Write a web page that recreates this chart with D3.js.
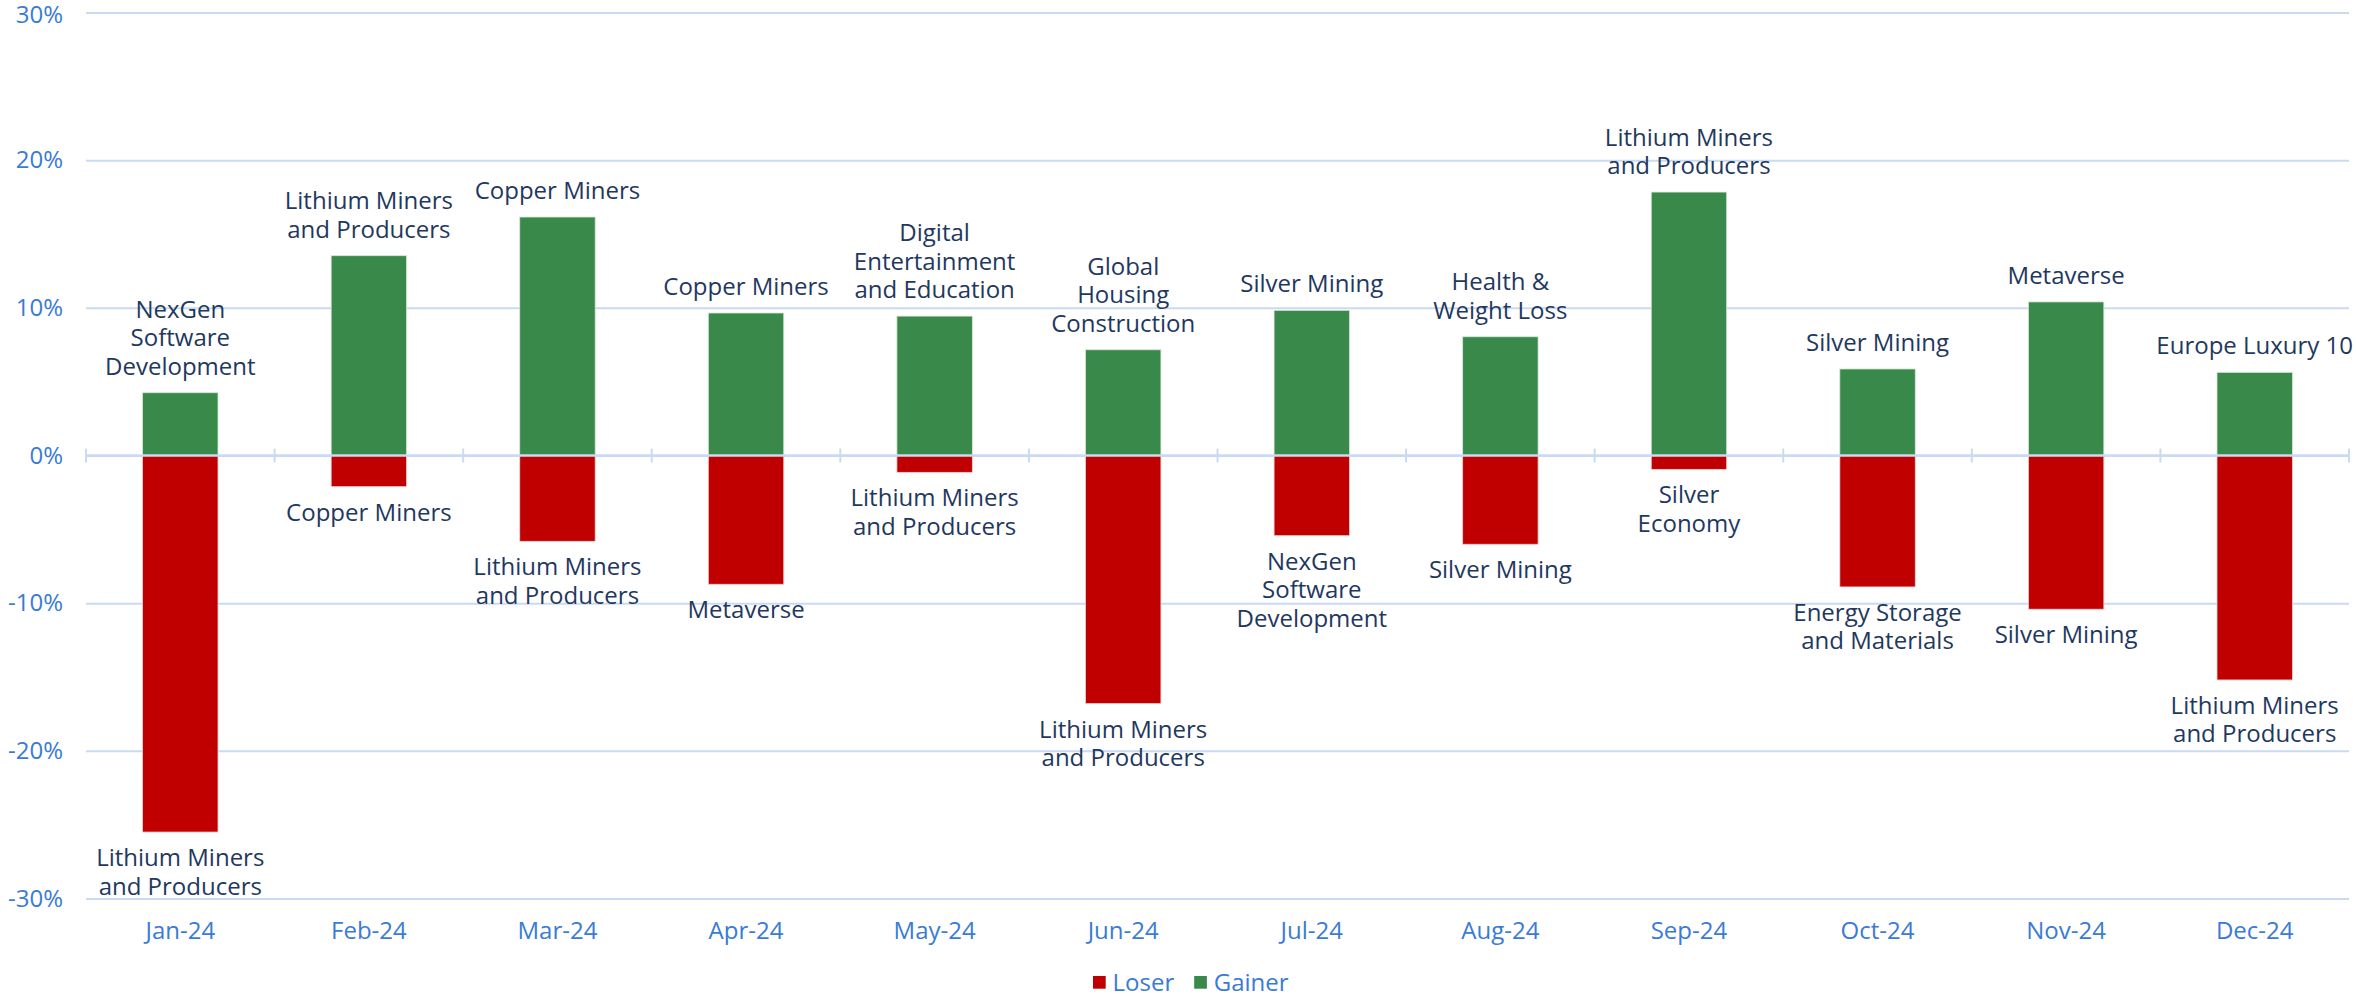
<!DOCTYPE html>
<html>
<head>
<meta charset="utf-8">
<script src="https://cdn.jsdelivr.net/npm/d3@7"></script>
<style>
  html, body { margin: 0; padding: 0; background: #ffffff; }
  svg { display: block; font-family: "Open Sans", "Noto Sans", sans-serif; }
</style>
</head>
<body>
<svg id="chart" width="2356" height="997"></svg>
<script>
// Monthly best and worst performing themes, 2024 (monthly return, %)
const months = ["Jan-24", "Feb-24", "Mar-24", "Apr-24", "May-24", "Jun-24",
                "Jul-24", "Aug-24", "Sep-24", "Oct-24", "Nov-24", "Dec-24"];

const gainerValues = [4.25, 13.53, 16.15, 9.65, 9.44, 7.16, 9.83, 8.04, 17.84, 5.86, 10.4, 5.63];
const loserValues  = [-25.5, -2.11, -5.81, -8.72, -1.14, -16.8, -5.43, -6.01, -0.94, -8.9, -10.41, -15.2];

const gainerNames = [
  "NexGen\nSoftware\nDevelopment",
  "Lithium Miners\nand Producers",
  "Copper Miners",
  "Copper Miners",
  "Digital\nEntertainment\nand Education",
  "Global\nHousing\nConstruction",
  "Silver Mining",
  "Health &\nWeight Loss",
  "Lithium Miners\nand Producers",
  "Silver Mining",
  "Metaverse",
  "Europe Luxury 10"
];
const loserNames = [
  "Lithium Miners\nand Producers",
  "Copper Miners",
  "Lithium Miners\nand Producers",
  "Metaverse",
  "Lithium Miners\nand Producers",
  "Lithium Miners\nand Producers",
  "NexGen\nSoftware\nDevelopment",
  "Silver Mining",
  "Silver\nEconomy",
  "Energy Storage\nand Materials",
  "Silver Mining",
  "Lithium Miners\nand Producers"
];

const yTicks = [-30, -20, -10, 0, 10, 20, 30];
const seriesNames = ["Loser", "Gainer"];

// ---- styling ----
const colors = { Loser: "#C00000", Gainer: "#38894A" };
const gridColor = "#C9DBF2";
const axisTextColor = "#3A7BD5";
const labelColor = "#1F3860";
const labelFont = 24;
const axisFont = 24;
const lineHeight = 28.5;

const svg = d3.select("#chart");
const plot = { left: 86, right: 2349, top: 12.5, bottom: 898.5 };

const x = d3.scaleBand()
  .domain(months)
  .range([plot.left, plot.right])
  .paddingInner(0.6)
  .paddingOuter(0.3);

const y = d3.scaleLinear()
  .domain([-30, 30])
  .range([plot.bottom, plot.top]);

// horizontal gridlines with percentage labels
const yAxis = d3.axisLeft(y)
  .tickValues(yTicks)
  .tickFormat(d => d + "%")
  .tickSizeInner(-(plot.right - plot.left))
  .tickSizeOuter(0)
  .tickPadding(23);

const gy = svg.append("g")
  .attr("transform", `translate(${plot.left},0)`)
  .call(yAxis);
gy.select(".domain").remove();
gy.selectAll(".tick line")
  .attr("stroke", gridColor)
  .attr("stroke-width", 2);
gy.selectAll(".tick text")
  .attr("fill", axisTextColor)
  .attr("font-size", axisFont)
  .attr("font-family", "Open Sans, sans-serif")
  .attr("dy", d => d === 30 ? "0.42em" : "0.32em");

// month labels along the bottom
const xAxis = d3.axisBottom(x)
  .tickSize(0)
  .tickPadding(23.5);
const gx = svg.append("g")
  .attr("transform", `translate(0,${plot.bottom})`)
  .call(xAxis);
gx.select(".domain").remove();
gx.selectAll(".tick text")
  .attr("fill", axisTextColor)
  .attr("font-size", axisFont)
  .attr("font-family", "Open Sans, sans-serif");

// bars
const rows = months.map((m, i) => ({
  month: m,
  gain: gainerValues[i], loss: loserValues[i],
  gainName: gainerNames[i], lossName: loserNames[i]
}));

const bars = svg.append("g");
bars.selectAll("rect.gain")
  .data(rows).join("rect")
  .attr("class", "gain")
  .attr("x", d => x(d.month))
  .attr("width", x.bandwidth())
  .attr("y", d => y(d.gain))
  .attr("height", d => y(0) - y(d.gain))
  .attr("fill", colors.Gainer)
  .attr("stroke", "#d8e6d8")
  .attr("stroke-width", 0.8);

bars.selectAll("rect.loss")
  .data(rows).join("rect")
  .attr("class", "loss")
  .attr("x", d => x(d.month))
  .attr("width", x.bandwidth())
  .attr("y", y(0))
  .attr("height", d => y(d.loss) - y(0))
  .attr("fill", colors.Loser)
  .attr("stroke", "#f0d0d0")
  .attr("stroke-width", 0.8);

// zero axis line with category separators, drawn over the bars
const zeroY = y(0);
const axis0 = svg.append("g");
axis0.append("line")
  .attr("x1", plot.left).attr("x2", plot.right)
  .attr("y1", zeroY).attr("y2", zeroY)
  .attr("stroke", gridColor).attr("stroke-width", 2.5);
axis0.selectAll("line.sep")
  .data(d3.range(months.length + 1))
  .join("line")
  .attr("class", "sep")
  .attr("x1", i => plot.left + i * x.step())
  .attr("x2", i => plot.left + i * x.step())
  .attr("y1", zeroY - 7).attr("y2", zeroY + 7)
  .attr("stroke", gridColor).attr("stroke-width", 2);

// data labels naming the theme
const labels = svg.append("g")
  .attr("fill", labelColor)
  .attr("font-size", labelFont)
  .attr("text-anchor", "middle");

rows.forEach(d => {
  const cx = x(d.month) + x.bandwidth() / 2;

  const gLines = d.gainName.split("\n");
  const gBase = y(d.gain) - 18 - (gLines.length - 1) * lineHeight;
  const tg = labels.append("text").attr("x", cx).attr("y", gBase);
  gLines.forEach((ln, k) => {
    tg.append("tspan").attr("x", cx).attr("y", gBase + k * lineHeight).text(ln);
  });

  const lLines = d.lossName.split("\n");
  const lBase = y(d.loss) + 34;
  const tl = labels.append("text").attr("x", cx).attr("y", lBase);
  lLines.forEach((ln, k) => {
    tl.append("tspan").attr("x", cx).attr("y", lBase + k * lineHeight).text(ln);
  });
});

// legend
const legend = svg.append("g").attr("transform", "translate(1093,976)");
let lx = 0;
seriesNames.forEach(name => {
  const item = legend.append("g").attr("transform", `translate(${lx},0)`);
  item.append("rect")
    .attr("width", 12.7).attr("height", 12.7)
    .attr("fill", colors[name]);
  const t = item.append("text")
    .attr("x", 19.5).attr("y", 15)
    .attr("fill", axisTextColor)
    .attr("font-size", axisFont)
    .text(name);
  lx += 19.5 + t.node().getComputedTextLength() + 20;
});
</script>
</body>
</html>
